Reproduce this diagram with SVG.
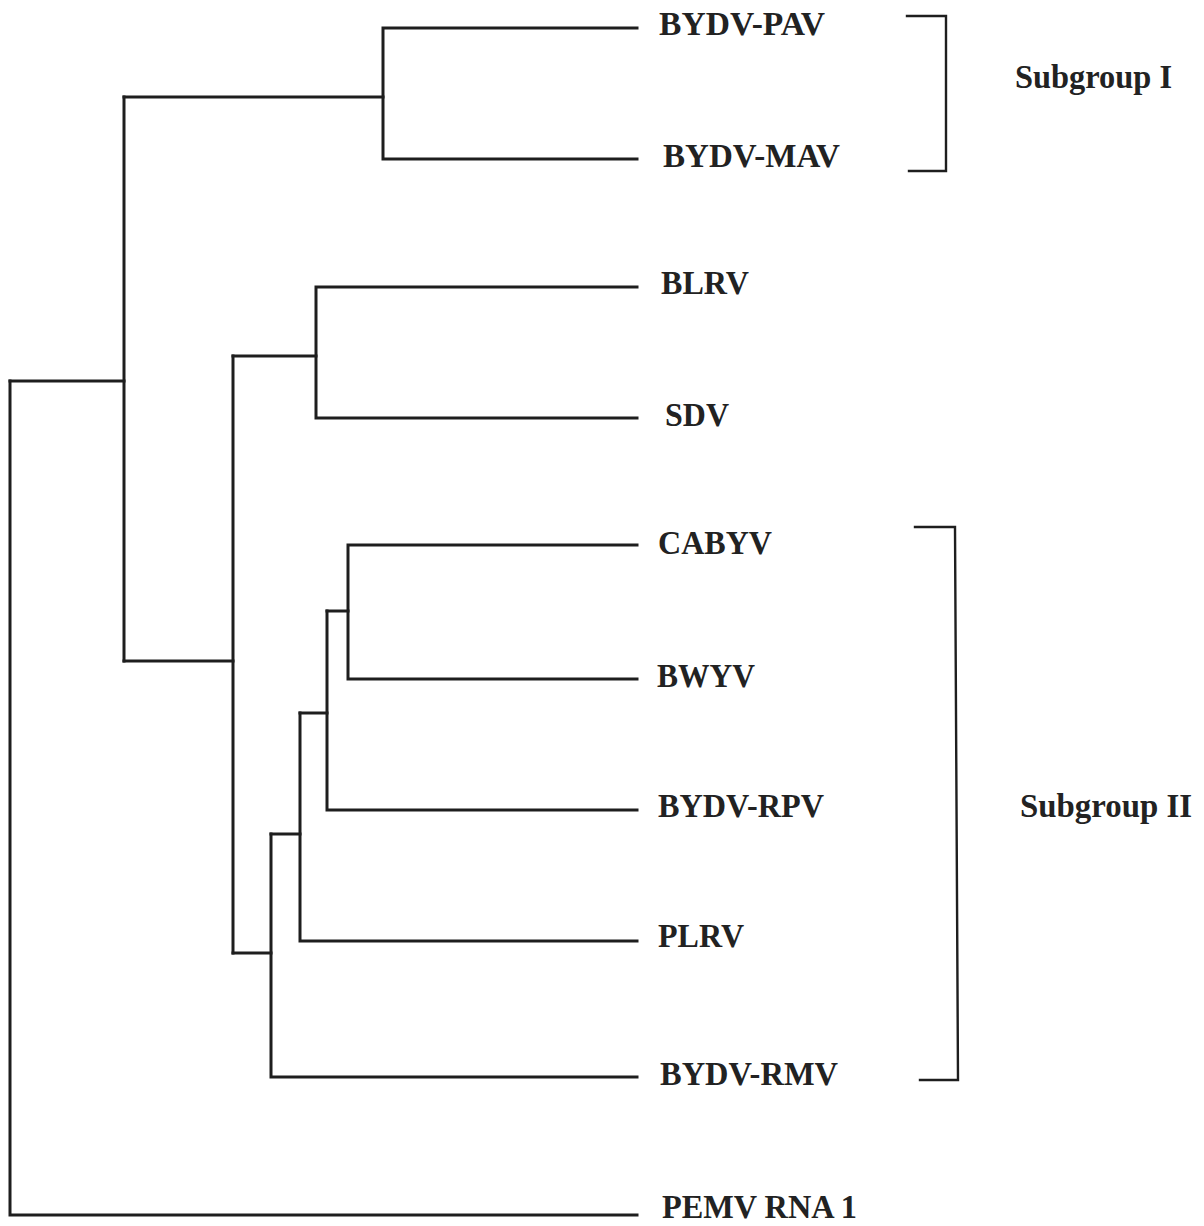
<svg xmlns="http://www.w3.org/2000/svg" width="1204" height="1226" viewBox="0 0 1204 1226">
<style>
.br{fill:none;stroke:#1e1e1e;stroke-width:3;stroke-linecap:square;stroke-linejoin:miter}
.bk{fill:none;stroke:#1e1e1e;stroke-width:2.4;stroke-linecap:square}
.lb{font-family:"Liberation Serif","Times New Roman",serif;font-weight:bold;font-size:34px;fill:#222}
</style>
<rect width="1204" height="1226" fill="#fff"/>
<g id="connectors">
<path class="br" d="M10,381 V1215 H637"/>
<path class="br" d="M10,381 H124"/>
<path class="br" d="M124,97 V661"/>
<path class="br" d="M124,97 H383"/>
<path class="br" d="M637,28 H383 V159 H637"/>
<path class="br" d="M124,661 H233"/>
<path class="br" d="M233,356 V953"/>
<path class="br" d="M233,356 H316"/>
<path class="br" d="M637,287 H316 V418 H637"/>
<path class="br" d="M233,953 H271"/>
<path class="br" d="M271,834 V1077 H637"/>
<path class="br" d="M271,834 H300"/>
<path class="br" d="M300,713 V941 H637"/>
<path class="br" d="M300,713 H327"/>
<path class="br" d="M327,611 V810 H637"/>
<path class="br" d="M327,611 H348"/>
<path class="br" d="M637,545 H348 V679 H637"/>
</g>
<g id="bracket-subgroup-I">
<path class="bk" d="M907,16 H946 V171 H909"/>
<text class="lb" x="1015" y="88" textLength="157" lengthAdjust="spacingAndGlyphs">Subgroup I</text>
</g>
<g id="bracket-subgroup-II">
<path class="bk" d="M915,527 H955 L958,1080 H920"/>
<text class="lb" x="1020" y="817" textLength="172" lengthAdjust="spacingAndGlyphs">Subgroup II</text>
</g>
<g id="node-BYDV-PAV"><text class="lb" x="659" y="35" textLength="166" lengthAdjust="spacingAndGlyphs">BYDV-PAV</text></g>
<g id="node-BYDV-MAV"><text class="lb" x="663" y="167" textLength="177" lengthAdjust="spacingAndGlyphs">BYDV-MAV</text></g>
<g id="node-BLRV"><text class="lb" x="661" y="294" textLength="88" lengthAdjust="spacingAndGlyphs">BLRV</text></g>
<g id="node-SDV"><text class="lb" x="665" y="426" textLength="64" lengthAdjust="spacingAndGlyphs">SDV</text></g>
<g id="node-CABYV"><text class="lb" x="658" y="554" textLength="114" lengthAdjust="spacingAndGlyphs">CABYV</text></g>
<g id="node-BWYV"><text class="lb" x="657" y="687" textLength="98" lengthAdjust="spacingAndGlyphs">BWYV</text></g>
<g id="node-BYDV-RPV"><text class="lb" x="658" y="817" textLength="166" lengthAdjust="spacingAndGlyphs">BYDV-RPV</text></g>
<g id="node-PLRV"><text class="lb" x="658" y="947" textLength="86" lengthAdjust="spacingAndGlyphs">PLRV</text></g>
<g id="node-BYDV-RMV"><text class="lb" x="660" y="1085" textLength="178" lengthAdjust="spacingAndGlyphs">BYDV-RMV</text></g>
<g id="node-PEMV-RNA-1"><text class="lb" x="662" y="1218" textLength="195" lengthAdjust="spacingAndGlyphs">PEMV RNA 1</text></g>
</svg>
